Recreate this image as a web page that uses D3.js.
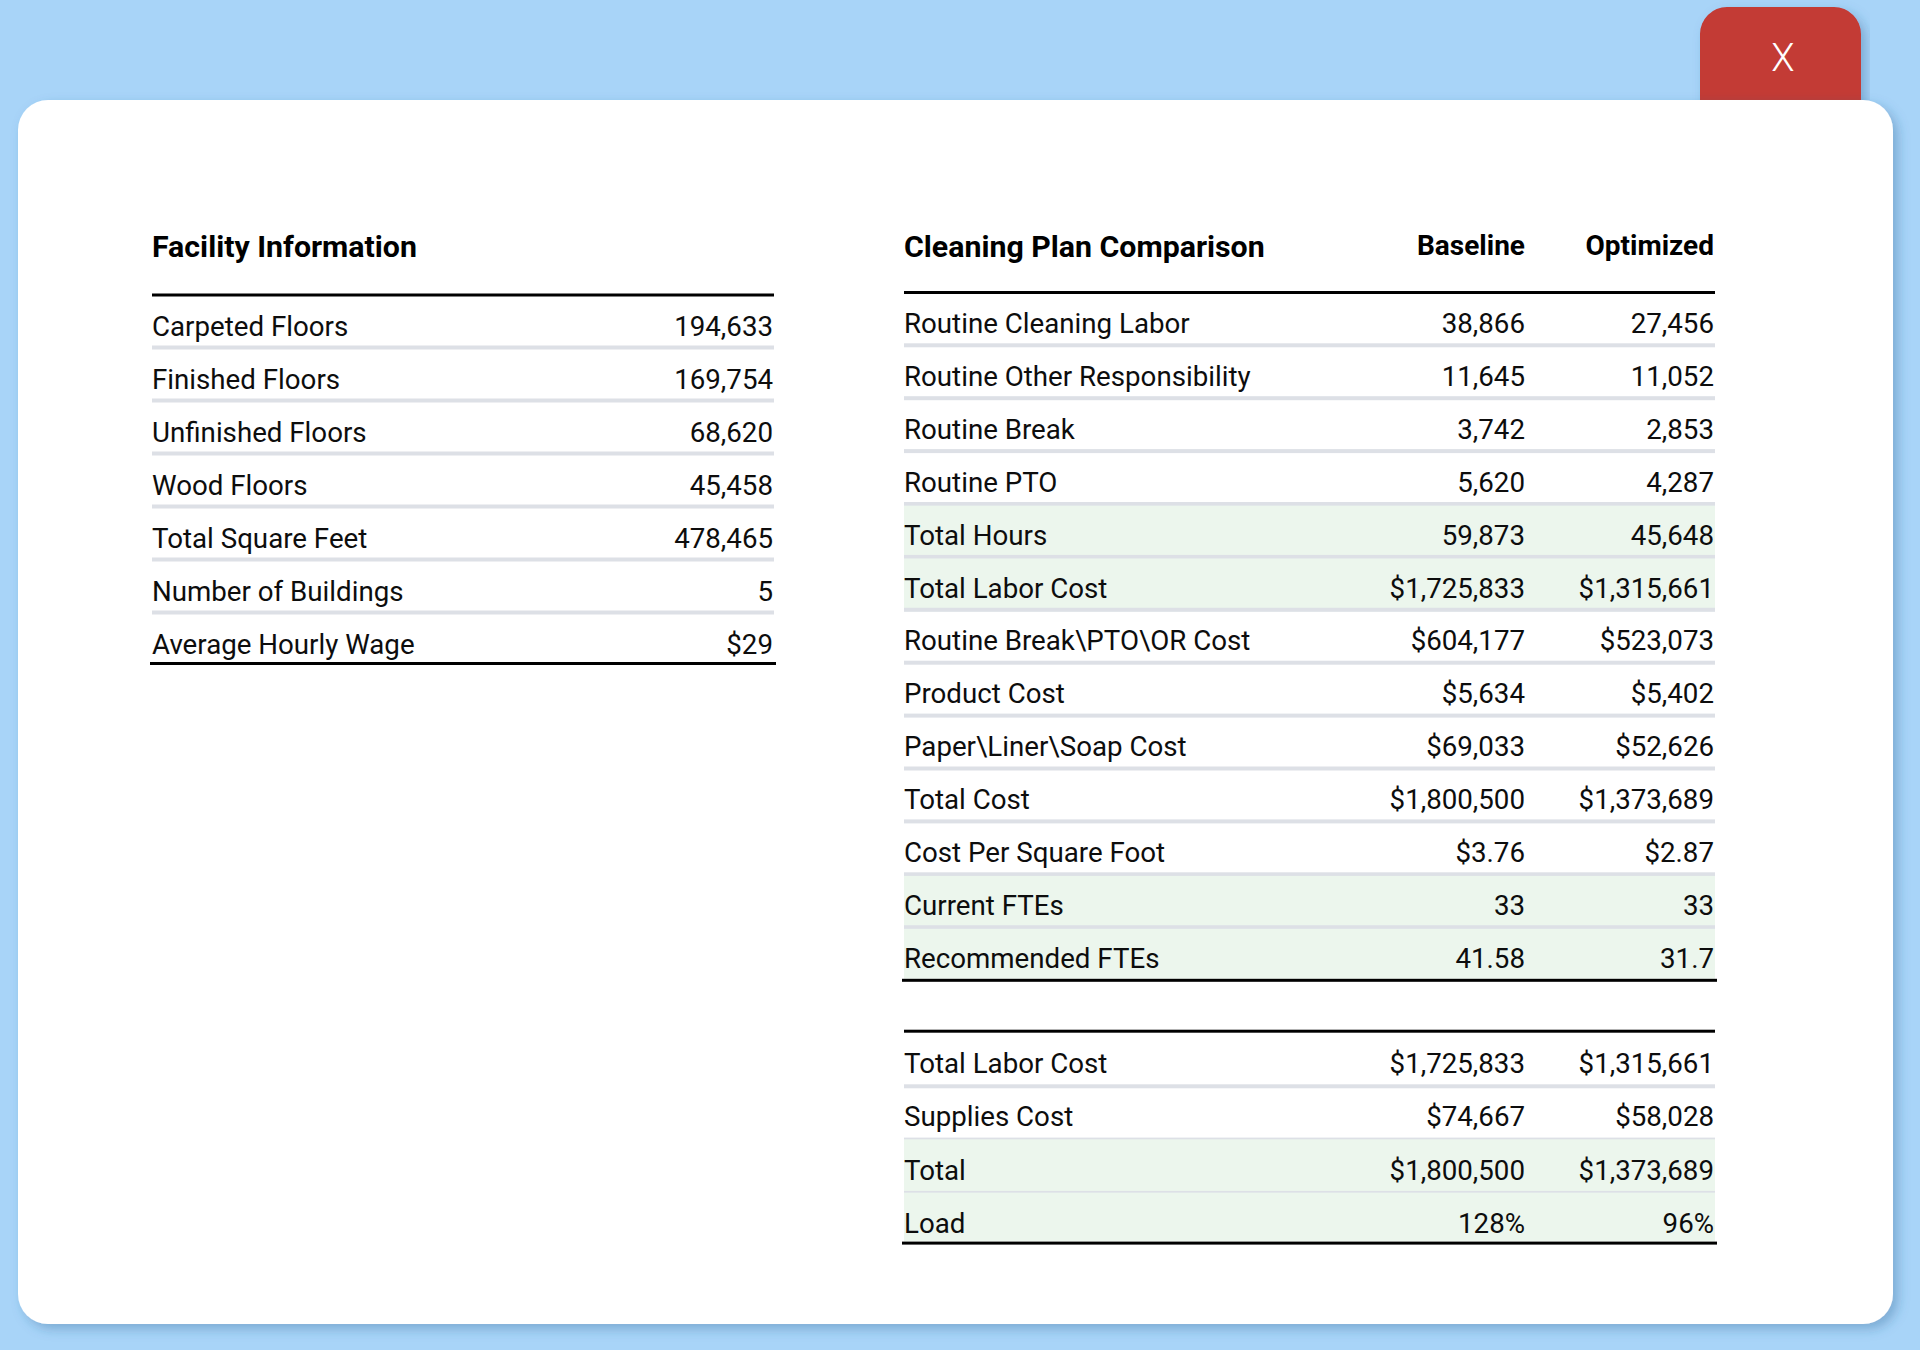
<!DOCTYPE html>
<html>
<head>
<meta charset="utf-8">
<script src="https://cdn.jsdelivr.net/npm/d3@7"></script>
<style>
  html, body { margin: 0; padding: 0; background: #a8d4f8; }
  svg { display: block; font-family: Roboto, "Open Sans", "Noto Sans", sans-serif; }
</style>
</head>
<body>
<svg id="chart" width="1920" height="1350"></svg>
<script>
// ---------- DATA ----------
const closeLabel = "X";

const facilityTitle = "Facility Information";
const facilityLabels = [
  "Carpeted Floors", "Finished Floors", "Unfinished Floors", "Wood Floors",
  "Total Square Feet", "Number of Buildings", "Average Hourly Wage"
];
const facilityValues = ["194,633", "169,754", "68,620", "45,458", "478,465", "5", "$29"];

const planTitle = "Cleaning Plan Comparison";
const planColumns = ["Baseline", "Optimized"];
const planLabels = [
  "Routine Cleaning Labor", "Routine Other Responsibility", "Routine Break", "Routine PTO",
  "Total Hours", "Total Labor Cost", "Routine Break\\PTO\\OR Cost", "Product Cost",
  "Paper\\Liner\\Soap Cost", "Total Cost", "Cost Per Square Foot", "Current FTEs", "Recommended FTEs"
];
const planBaseline = [
  "38,866", "11,645", "3,742", "5,620", "59,873", "$1,725,833", "$604,177", "$5,634",
  "$69,033", "$1,800,500", "$3.76", "33", "41.58"
];
const planOptimized = [
  "27,456", "11,052", "2,853", "4,287", "45,648", "$1,315,661", "$523,073", "$5,402",
  "$52,626", "$1,373,689", "$2.87", "33", "31.7"
];

const summaryLabels = ["Total Labor Cost", "Supplies Cost", "Total", "Load"];
const summaryBaseline = ["$1,725,833", "$74,667", "$1,800,500", "128%"];
const summaryOptimized = ["$1,315,661", "$58,028", "$1,373,689", "96%"];

// ---------- STYLE ----------
const C = {
  bg: "#a8d4f8",
  panel: "#ffffff",
  red: "#c33a34",
  green: "#ecf6ed",
  grid: "#dde0e6",
  ink: "#0d0d0d",
  rule: "#000000"
};
const ROW_FONT = 27.7;
const TITLE_FONT = 30.3;
const highlightedPlan = new Set(["Total Hours", "Total Labor Cost", "Current FTEs", "Recommended FTEs"]);
const highlightedSummary = new Set(["Total", "Load"]);

const svg = d3.select("#chart");
svg.append("rect").attr("width", 1920).attr("height", 1350).attr("fill", C.bg);

const defs = svg.append("defs");
const sh = defs.append("filter").attr("id", "shadow")
  .attr("x", "-5%").attr("y", "-5%").attr("width", "110%").attr("height", "110%");
sh.append("feDropShadow").attr("dx", 5).attr("dy", 5).attr("stdDeviation", 6)
  .attr("flood-color", "#2d5f8f").attr("flood-opacity", 0.35);

// close button (behind the panel)
svg.append("rect")
  .attr("x", 1700).attr("y", 7).attr("width", 161).attr("height", 140)
  .attr("rx", 27).attr("fill", C.red).attr("filter", "url(#shadow)");
svg.append("text")
  .attr("x", 1783).attr("y", 71).attr("text-anchor", "middle")
  .attr("font-size", 38).attr("font-weight", 300).attr("fill", "#ffffff")
  .text(closeLabel);

// panel
svg.append("rect")
  .attr("x", 18).attr("y", 100).attr("width", 1875).attr("height", 1224)
  .attr("rx", 30).attr("fill", C.panel).attr("filter", "url(#shadow)");

// ---------- TABLE DRAWER ----------
function drawTable(opt) {
  const g = svg.append("g");
  const n = opt.labels.length;
  const y = d3.scaleBand()
    .domain(d3.range(n))
    .range([opt.rowTop, opt.rowTop + n * opt.pitch])
    .paddingInner(0).paddingOuter(0);

  // top rule
  g.append("rect").attr("x", opt.x0).attr("y", opt.rowTop - 3)
    .attr("width", opt.x1 - opt.x0).attr("height", 3).attr("fill", C.rule);

  const rows = g.selectAll("g.row").data(opt.labels.map((l, i) => ({ label: l, i })))
    .join("g").attr("class", "row")
    .attr("transform", d => `translate(0,${y(d.i)})`);

  // highlight background
  rows.filter(d => opt.highlight.has(d.label))
    .append("rect").attr("x", opt.x0).attr("y", 0)
    .attr("width", opt.x1 - opt.x0)
    .attr("height", d => d.i === n - 1 ? opt.lastLine : y.bandwidth())
    .attr("fill", C.green);

  // separator lines
  rows.filter(d => d.i < n - 1)
    .append("rect").attr("x", opt.x0).attr("y", opt.lineOffset)
    .attr("width", opt.x1 - opt.x0).attr("height", 4).attr("fill", C.grid);

  // labels
  rows.append("text")
    .attr("x", opt.x0).attr("y", opt.baseline)
    .attr("font-size", ROW_FONT).attr("fill", C.ink)
    .text(d => d.label);

  // values
  opt.columns.forEach(col => {
    rows.append("text")
      .attr("x", col.x).attr("y", opt.baseline)
      .attr("text-anchor", "end")
      .attr("font-size", ROW_FONT).attr("fill", C.ink)
      .text(d => col.values[d.i]);
  });

  // bottom rule
  g.append("rect").attr("x", opt.x0 - 2).attr("y", y(n - 1) + opt.lastLine)
    .attr("width", opt.x1 - opt.x0 + 4).attr("height", 3).attr("fill", C.rule);

  return g;
}

// ---------- LEFT: FACILITY ----------
svg.append("text").attr("x", 152).attr("y", 257)
  .attr("font-size", TITLE_FONT).attr("font-weight", 700).attr("fill", "#000")
  .text(facilityTitle);

drawTable({
  labels: facilityLabels,
  columns: [{ values: facilityValues, x: 773 }],
  x0: 152, x1: 774,
  rowTop: 296.5, pitch: 53, lineOffset: 49, baseline: 39.5, lastLine: 47.5,
  highlight: new Set()
});

// ---------- RIGHT: PLAN ----------
const colX = d3.scaleOrdinal().domain(planColumns).range([1525, 1714]);

svg.append("text").attr("x", 904).attr("y", 257)
  .attr("font-size", TITLE_FONT).attr("font-weight", 700).attr("fill", "#000")
  .text(planTitle);
svg.selectAll("text.colhead").data(planColumns).join("text")
  .attr("class", "colhead")
  .attr("x", d => colX(d)).attr("y", 255).attr("text-anchor", "end")
  .attr("font-size", 28).attr("font-weight", 700).attr("fill", "#000")
  .text(d => d);

drawTable({
  labels: planLabels,
  columns: [
    { values: planBaseline, x: colX("Baseline") },
    { values: planOptimized, x: colX("Optimized") }
  ],
  x0: 904, x1: 1715,
  rowTop: 294, pitch: 52.9, lineOffset: 49.3, baseline: 39, lastLine: 50,
  highlight: highlightedPlan
});

drawTable({
  labels: summaryLabels,
  columns: [
    { values: summaryBaseline, x: colX("Baseline") },
    { values: summaryOptimized, x: colX("Optimized") }
  ],
  x0: 904, x1: 1715,
  rowTop: 1032.7, pitch: 53.3, lineOffset: 51.6, baseline: 40.3, lastLine: 49,
  highlight: highlightedSummary
});
</script>
</body>
</html>
